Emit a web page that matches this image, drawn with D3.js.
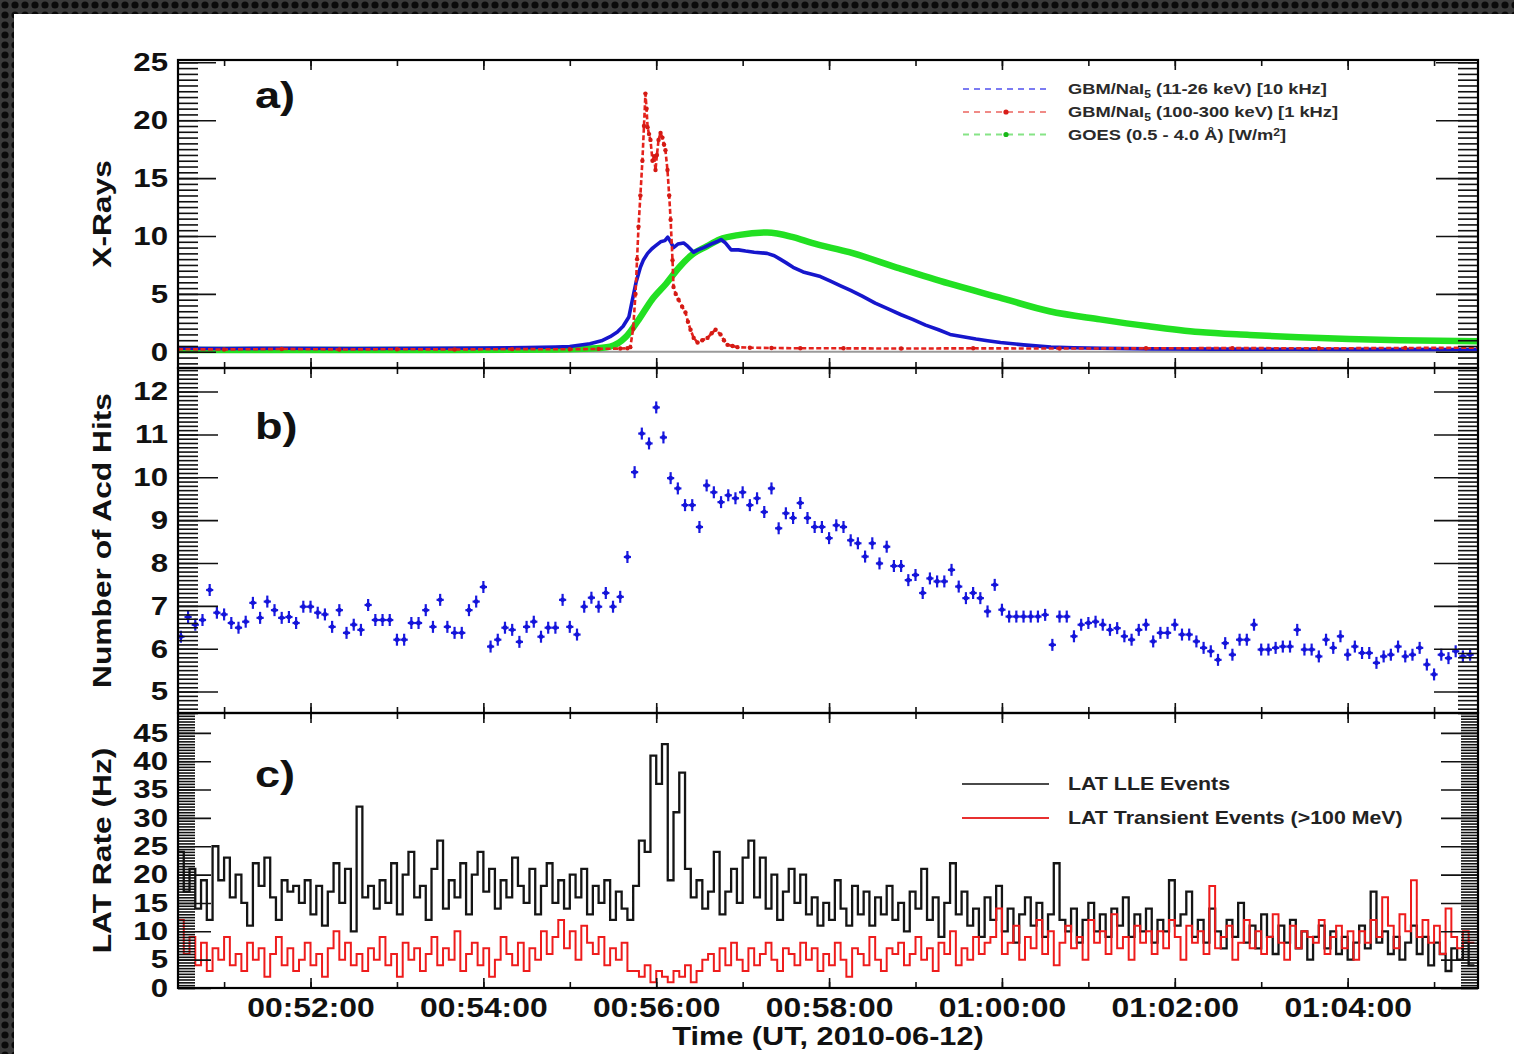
<!DOCTYPE html>
<html>
<head>
<meta charset="utf-8">
<title>Flare 2010-06-12</title>
<script src="https://cdn.jsdelivr.net/npm/d3@7"></script>
<style>
  body { margin: 0; background: #fff; }
  svg text { font-family: "Liberation Sans", Arial, Helvetica, sans-serif; font-weight: bold; fill: #111; }
</style>
</head>
<body>
<div id="container"></div>
<script>
/* DATA  (all times are seconds after 00:50:00 UT, 2010-06-12) */

// a) GBM NaI 5, 11-26 keV
const gbmLowT = [28, 60, 100, 150, 200, 240, 270, 290, 300, 314, 322, 328, 333, 337, 341, 343.5, 346, 349, 351,
  354, 357, 359, 363, 366, 368, 370, 372, 375, 379, 382, 386, 389, 393, 398, 402, 405, 408, 412, 417,
  422, 428, 437, 442, 446, 450, 455, 462, 468, 474, 481, 488, 495, 503, 512, 521, 530, 538, 547, 556,
  564, 573, 582, 590, 599, 615, 634, 650, 669, 703, 750, 800, 850, 931];
const gbmLowV = [0.30, 0.28, 0.31, 0.29, 0.31, 0.33, 0.36, 0.42, 0.46, 0.7, 0.95, 1.3, 1.7, 2.2, 3.0, 4.5, 6.0, 7.3, 7.9,
  8.5, 8.9, 9.1, 9.5, 9.6, 9.9, 9.5, 9.0, 9.3, 9.4, 9.1, 8.6, 8.8, 9.0, 9.3, 9.5, 9.7, 9.4, 8.8, 8.8,
  8.7, 8.6, 8.5, 8.3, 8.0, 7.7, 7.3, 6.9, 6.7, 6.5, 6.1, 5.7, 5.3, 4.8, 4.2, 3.7, 3.2, 2.8, 2.3, 1.9,
  1.5, 1.3, 1.1, 0.95, 0.8, 0.6, 0.4, 0.35, 0.3, 0.25, 0.23, 0.22, 0.21, 0.2];

// a) GBM NaI 5, 100-300 keV
const gbmHighT = [28, 60, 100, 140, 180, 220, 260, 300, 320, 335, 340, 342, 344, 345.6, 346.7, 347.7, 349, 350.4, 351.5, 352.5,
  353.3, 354, 355, 356, 357.4, 358.5, 359.5, 360.5, 361.6, 363, 364.3, 365.4, 366.4, 367.8, 369, 370, 371.3, 372, 373.5, 375.5,
  378, 380.3, 382, 383.8, 386, 388.7, 392, 395.6, 398.5, 401.2, 404.6, 407, 409.5, 413, 416.4, 425, 440, 460, 490, 530,
  580, 640, 700, 760, 820, 880, 931];
const gbmHighV = [0.22, 0.2, 0.24, 0.2, 0.22, 0.2, 0.23, 0.22, 0.25, 0.28, 0.3, 0.4, 2.0, 5.0, 8.0, 10.8, 13.5, 16.5, 19.5, 22.3,
  21.0, 19.4, 18.8, 18.3, 16.5, 16.9, 15.7, 17.0, 18.3, 18.9, 18.5, 17.9, 17.4, 15.7, 13.5, 11.4, 7.9, 5.6, 5.0, 4.5,
  3.9, 3.4, 2.6, 1.9, 1.2, 0.8, 1.0, 1.2, 1.6, 1.9, 1.5, 1.0, 0.6, 0.5, 0.4, 0.35, 0.33, 0.3, 0.3, 0.28,
  0.3, 0.28, 0.3, 0.32, 0.3, 0.33, 0.35];

// a) GOES 0.5-4.0 A
const goesT = [28, 120, 220, 290, 315, 328, 339, 348, 357, 367, 376, 385, 395, 404, 418, 437, 455, 468, 494, 529,
  563, 598, 633, 668, 702, 737, 772, 806, 841, 876, 931];
const goesV = [0.15, 0.15, 0.16, 0.2, 0.28, 0.45, 1.3, 2.8, 4.5, 5.9, 7.3, 8.4, 9.1, 9.7, 10.1, 10.3, 9.9, 9.4, 8.6, 7.2,
  5.9, 4.7, 3.5, 2.8, 2.2, 1.7, 1.45, 1.25, 1.1, 1.0, 0.9];

// b) ACD hits, 5 s points starting at 30 s
const acdStart = 30, acdStep = 5, acdErr = 0.14;
const acdV = [
  6.28, 6.74, 6.56, 6.67, 7.37, 6.84, 6.80, 6.60, 6.49, 6.63,
  7.07, 6.72, 7.10, 6.90, 6.72, 6.74, 6.60, 6.98, 6.98, 6.84,
  6.80, 6.51, 6.90, 6.37, 6.56, 6.44, 7.02, 6.67, 6.67, 6.67,
  6.21, 6.21, 6.60, 6.60, 6.90, 6.51, 7.14, 6.51, 6.37, 6.37,
  6.90, 7.10, 7.44, 6.05, 6.21, 6.49, 6.44, 6.16, 6.51, 6.63,
  6.28, 6.49, 6.49, 7.14, 6.51, 6.33, 6.98, 7.19, 6.98, 7.30,
  6.98, 7.21, 8.14,
  10.12, 11.02, 10.79, 11.63, 10.93, 9.98, 9.74, 9.35, 9.35, 8.84,
  9.81, 9.65, 9.42, 9.58, 9.51, 9.65, 9.35, 9.51, 9.19, 9.74,
  8.81, 9.16, 9.05, 9.40, 9.05, 8.84, 8.84, 8.58, 8.88, 8.84,
  8.53, 8.46,
  8.15, 8.46, 7.99, 8.38, 7.93, 7.93, 7.60, 7.72, 7.30, 7.64,
  7.57, 7.57, 7.84, 7.45, 7.18, 7.30, 7.18, 6.87, 7.49, 6.91,
  6.75, 6.75, 6.75, 6.75, 6.75, 6.79, 6.09, 6.75, 6.75, 6.29,
  6.56, 6.60, 6.63, 6.56, 6.44, 6.48, 6.29, 6.21, 6.44, 6.56,
  6.17, 6.37, 6.37, 6.56, 6.33, 6.33, 6.17, 6.02, 5.94, 5.74,
  6.13, 5.86, 6.21, 6.21, 6.56, 5.98, 5.98, 6.02, 6.05, 6.05,
  6.44, 5.98, 5.98, 5.82, 6.21, 6.02, 6.29, 5.86, 6.05, 5.90,
  5.90, 5.67, 5.82, 5.86, 6.05, 5.82, 5.86, 6.02, 5.63, 5.40,
  5.86, 5.78, 5.94, 5.82, 5.86];

// c) LAT rates, 4 s bins starting at 28 s
const latStart = 28, latStep = 4;
const lleV = [
  24, 17, 21, 14, 19, 12, 25, 19, 23, 16,
  20, 15, 11, 22, 18, 23, 16, 12, 19, 17,
  18, 15, 19, 13, 18, 11, 17, 22, 15, 21,
  10, 32, 16, 18, 14, 19, 15, 22, 13, 20,
  24, 16, 18, 12, 21, 26, 14, 19, 16, 22,
  13, 20, 24, 17, 21, 14, 19, 16, 23, 18,
  15, 21, 13, 18, 22, 15, 19, 14, 20, 16,
  21, 13, 18, 15, 19, 12, 17, 14, 12, 18,
  26, 24, 41, 36, 43, 19, 31, 38, 21, 16,
  19, 14, 17, 24, 13, 17, 21, 15, 23, 26,
  16, 23, 14, 20, 12, 17, 21, 15, 20, 13,
  16, 11, 15, 12, 19, 14, 11, 18, 13, 17,
  11, 16, 13, 18, 12, 15, 10, 17, 14, 21,
  12, 16, 9, 15, 22, 13, 17, 11, 14, 9,
  16, 12, 18, 10, 14, 8, 13, 16, 11, 15,
  9, 13, 22, 12, 10, 14, 8, 12, 15, 10,
  13, 9, 14, 11, 16, 9, 13, 10, 14, 8,
  12, 10, 19, 11, 13, 17, 9, 12, 8, 14,
  10, 7, 12, 9, 15, 8, 11, 7, 13, 9,
  6, 11, 8, 12, 7, 10, 5, 9, 11, 7,
  10, 6, 9, 5, 8, 11, 7, 17, 8, 10,
  6, 9, 5, 8, 11, 6, 9, 4, 8, 6,
  3, 7, 5, 8, 4];
const transientV = [
  12, 6, 9, 4, 8, 3, 7, 5, 9, 4,
  6, 3, 8, 5, 7, 2, 6, 9, 4, 7,
  3, 5, 8, 4, 6, 2, 7, 10, 5, 8,
  4, 6, 3, 7, 5, 9, 4, 6, 2, 8,
  5, 7, 3, 6, 9, 4, 7, 5, 10, 3,
  6, 8, 4, 7, 2, 5, 9, 6, 4, 8,
  3, 7, 5, 10, 6, 9, 12, 7, 10, 5,
  11, 8, 6, 9, 4, 7, 5, 8, 3, 3,
  2, 4, 1, 3, 2, 1, 3, 2, 4, 1,
  3, 5, 6, 3, 7, 4, 8, 5, 3, 7,
  4, 6, 8, 5, 3, 7, 6, 4, 8, 5,
  7, 3, 6, 4, 8, 5, 2, 7, 6, 4,
  9, 5, 3, 7, 6, 8, 4, 6, 9, 5,
  7, 3, 8, 6, 10, 4, 7, 5, 9, 6,
  8, 9, 14, 6, 8, 11, 5, 9, 7, 12,
  6, 10, 4, 8, 11, 7, 9, 5, 12, 8,
  10, 6, 13, 7, 9, 5, 11, 8, 10, 6,
  10, 7, 12, 9, 5, 11, 8, 10, 6, 18,
  7, 9, 11, 5, 8, 12, 7, 10, 6, 9,
  13, 8, 5, 11, 7, 10, 9, 8, 12, 6,
  9, 11, 7, 10, 5, 10, 8, 12, 9, 16,
  11, 7, 13, 10, 19, 9, 12, 8, 11, 6,
  14, 9, 7, 10, 8];

// tick labels / titles
const yLabelsA = [0, 5, 10, 15, 20, 25];
const yLabelsB = [5, 6, 7, 8, 9, 10, 11, 12];
const yLabelsC = [0, 5, 10, 15, 20, 25, 30, 35, 40, 45];
const legendA = [
  [["GBM/NaI", 0], ["5", 1], [" (11-26 keV) [10 kHz]", 0]],
  [["GBM/NaI", 0], ["5", 1], [" (100-300 keV) [1 kHz]", 0]],
  [["GOES (0.5 - 4.0 Å) [W/m", 0], ["2", -1], ["]", 0]]
];
const legendC = ["LAT LLE Events", "LAT Transient Events (>100 MeV)"];

/* CONSTANTS */
const width = 1514, height = 1054;
const left = 178, right = 1478;
const stretch = 1.22;
const t0 = Date.UTC(2010, 5, 12, 0, 50, 0);
const toDate = s => new Date(t0 + s * 1000);

const svg = d3.select("#container").append("svg")
  .attr("width", width).attr("height", height);
const defs = svg.append("defs");

// dotted dark frame round the page
const pat = defs.append("pattern").attr("id", "dots")
  .attr("width", 10).attr("height", 10).attr("patternUnits", "userSpaceOnUse");
pat.append("rect").attr("width", 10).attr("height", 10).attr("fill", "#3a3a3a");
pat.append("circle").attr("cx", 5).attr("cy", 5).attr("r", 3.6).attr("fill", "#0a0a0a");
svg.append("rect").attr("width", width).attr("height", height).attr("fill", "url(#dots)");
svg.append("rect").attr("x", 14).attr("y", 14).attr("width", width - 14).attr("height", height - 14).attr("fill", "#fff");

// SCALES
const x = d3.scaleUtc().domain([toDate(28), toDate(930.5)]).range([left, right]);

const panels = [
  { key: "a", top: 60, bottom: 368, domain: [-1.4, 25.2], major: 5, minor: 0.5, majLen: 38, minLen: 20,
    labels: yLabelsA, title: "X-Rays", letter: "a)", letterY: 108 },
  { key: "b", top: 368, bottom: 713, domain: [4.5, 12.55], major: 1, minor: 0.1, majLen: 40, minLen: 20,
    labels: yLabelsB, title: "Number of Acd Hits", letter: "b)", letterY: 439 },
  { key: "c", top: 713, bottom: 988, domain: [0, 48.5], major: 5, minor: 0.5, majLen: 33, minLen: 17,
    labels: yLabelsC, title: "LAT Rate (Hz)", letter: "c)", letterY: 787 }
];

panels.forEach(p => {
  p.y = d3.scaleLinear().domain(p.domain).range([p.bottom, p.top]);
  defs.append("clipPath").attr("id", "clip-" + p.key).append("rect")
    .attr("x", left).attr("y", p.top).attr("width", right - left).attr("height", p.bottom - p.top);
  p.g = svg.append("g").attr("clip-path", `url(#clip-${p.key})`);
});
const [pa, pb, pc] = panels;

function stretchText(sel, f) {
  sel.each(function () {
    const L = this.getComputedTextLength();
    d3.select(this).attr("textLength", L * f).attr("lengthAdjust", "spacingAndGlyphs");
  });
}
function ticksBetween(d0, d1, step) {
  const k0 = Math.ceil(d0 / step - 1e-9), k1 = Math.floor(d1 / step + 1e-9);
  return d3.range(k0, k1 + 1).map(k => +(k * step).toFixed(6));
}
const zip = (ts, vs) => ts.map((t, i) => ({ t: toDate(t), v: vs[i] }));
function binned(vals, start, w) {
  const pts = vals.map((v, i) => ({ t: toDate(start + i * w), v }));
  pts.push({ t: toDate(start + vals.length * w), v: vals[vals.length - 1] });
  return pts;
}

/* PANEL A */
pa.g.append("line").attr("x1", left).attr("x2", right)
  .attr("y1", pa.y(0)).attr("y2", pa.y(0)).attr("stroke", "#9a9a9a").attr("stroke-width", 2);

pa.g.append("path").datum(zip(goesT, goesV))
  .attr("d", d3.line().x(d => x(d.t)).y(d => pa.y(d.v)).curve(d3.curveMonotoneX))
  .attr("fill", "none").attr("stroke", "#22e022").attr("stroke-width", 6.5);
pa.g.append("path").datum(zip(gbmLowT, gbmLowV))
  .attr("d", d3.line().x(d => x(d.t)).y(d => pa.y(d.v)))
  .attr("fill", "none").attr("stroke", "#1616cc").attr("stroke-width", 3.6)
  .attr("stroke-linejoin", "round");
const highPts = zip(gbmHighT, gbmHighV);
pa.g.append("path").datum(highPts)
  .attr("d", d3.line().x(d => x(d.t)).y(d => pa.y(d.v)))
  .attr("fill", "none").attr("stroke", "#e4221c").attr("stroke-width", 2.6)
  .attr("stroke-dasharray", "5,2.5");
pa.g.selectAll("circle.hi").data(highPts).join("circle").attr("class", "hi")
  .attr("cx", d => x(d.t)).attr("cy", d => pa.y(d.v)).attr("r", 2.2).attr("fill", "#d41a14");

/* PANEL B */
const acd = acdV.map((v, i) => ({ t: acdStart + i * acdStep, v }));
const acdG = pb.g.append("g").attr("stroke", "#1818e0").attr("stroke-width", 2.2);
acdG.selectAll("line.ey").data(acd).join("line").attr("class", "ey")
  .attr("x1", d => x(toDate(d.t))).attr("x2", d => x(toDate(d.t)))
  .attr("y1", d => pb.y(d.v - acdErr)).attr("y2", d => pb.y(d.v + acdErr));
acdG.selectAll("line.ex").data(acd).join("line").attr("class", "ex")
  .attr("x1", d => x(toDate(d.t - acdStep / 2))).attr("x2", d => x(toDate(d.t + acdStep / 2)))
  .attr("y1", d => pb.y(d.v)).attr("y2", d => pb.y(d.v));
pb.g.selectAll("circle.acd").data(acd).join("circle").attr("class", "acd")
  .attr("cx", d => x(toDate(d.t))).attr("cy", d => pb.y(d.v)).attr("r", 2.4).attr("fill", "#1414d8");

/* PANEL C */
const stepC = d3.line().x(d => x(d.t)).y(d => pc.y(d.v)).curve(d3.curveStepAfter);
pc.g.append("path").datum(binned(lleV, latStart, latStep))
  .attr("d", stepC).attr("fill", "none").attr("stroke", "#151515").attr("stroke-width", 2.3);
pc.g.append("path").datum(binned(transientV, latStart, latStep))
  .attr("d", stepC).attr("fill", "none").attr("stroke", "#ee1c1c").attr("stroke-width", 2);

/* AXES */
const majX = x.ticks(d3.utcMinute.every(2));
const minX = x.ticks(d3.utcMinute.every(1));

panels.forEach(p => {
  const minorY = ticksBetween(p.domain[0], p.domain[1], p.minor);
  const majorY = ticksBetween(p.domain[0], p.domain[1], p.major);

  const gl = svg.append("g").attr("transform", `translate(${left},0)`);
  gl.append("g").call(d3.axisLeft(p.y).tickValues(minorY).tickSize(-p.minLen).tickFormat(""));
  const lab = gl.append("g").call(d3.axisLeft(p.y).tickValues(majorY).tickSize(-p.majLen).tickPadding(10)
    .tickFormat(d => p.labels.includes(d) ? d3.format("d")(d) : ""));
  lab.selectAll("text").style("font-size", "26px");
  stretchText(lab.selectAll("text"), 1.2);

  const gr = svg.append("g").attr("transform", `translate(${right},0)`);
  gr.append("g").call(d3.axisRight(p.y).tickValues(minorY).tickSize(-p.minLen).tickFormat(""));
  gr.append("g").call(d3.axisRight(p.y).tickValues(majorY).tickSize(-(p.majLen + 4)).tickFormat(""));

  // x ticks on top and bottom of each panel
  [[p.top, d3.axisBottom], [p.bottom, d3.axisTop]].forEach(([yy, ax]) => {
    const gx = svg.append("g").attr("transform", `translate(0,${yy})`);
    gx.append("g").call(ax(x).tickValues(minX).tickSize(6).tickFormat(""));
    gx.append("g").call(ax(x).tickValues(majX).tickSize(10).tickFormat(""));
  });
});

const xl = svg.append("g").attr("transform", `translate(0,${pc.bottom})`)
  .call(d3.axisBottom(x).tickValues(majX).tickSize(0).tickPadding(10).tickFormat(d3.utcFormat("%H:%M:%S")));
xl.selectAll("text").style("font-size", "27px");
stretchText(xl.selectAll("text"), 1.18);

svg.selectAll(".domain").remove();
svg.selectAll(".tick line").attr("stroke", "#111").attr("stroke-width", 1.6);

// frames
panels.forEach(p => {
  svg.append("rect").attr("x", left).attr("y", p.top).attr("width", right - left).attr("height", p.bottom - p.top)
    .attr("fill", "none").attr("stroke", "#000").attr("stroke-width", 2.2);
});

/* TITLES */
panels.forEach(p => {
  svg.append("text")
    .attr("transform", `translate(111,${(p.top + p.bottom) / 2}) rotate(-90) scale(${stretch},1)`)
    .attr("text-anchor", "middle").style("font-size", "26px").text(p.title);
  svg.append("text")
    .attr("transform", `translate(255,${p.letterY}) scale(${stretch},1)`)
    .style("font-size", "37px").text(p.letter);
});
svg.append("text").attr("transform", `translate(828,1045) scale(1.18,1)`)
  .attr("text-anchor", "middle").style("font-size", "26px").text("Time (UT, 2010-06-12)");

/* LEGEND A */
const legAStyles = [
  { stroke: "#7b7bf2", dot: null },
  { stroke: "#f08a86", dot: "#d81c18" },
  { stroke: "#86e486", dot: "#18b818" }
];
const legAY = [89, 112, 134.5];
legendA.forEach((parts, i) => {
  const st = legAStyles[i];
  svg.append("line").attr("x1", 963).attr("x2", 1050).attr("y1", legAY[i]).attr("y2", legAY[i])
    .attr("stroke", st.stroke).attr("stroke-width", 2).attr("stroke-dasharray", "6,5");
  if (st.dot) svg.append("circle").attr("cx", 1006).attr("cy", legAY[i]).attr("r", 2.6).attr("fill", st.dot);
  const t = svg.append("text").attr("transform", `translate(1068,${legAY[i] + 5.4}) scale(${stretch},1)`)
    .style("font-size", "15px").style("fill", "#2a2a2a");
  parts.forEach(([s, shift], k) => {
    const prev = k > 0 ? parts[k - 1][1] : 0;
    t.append("tspan").attr("dy", (shift - prev) * 4).style("font-size", shift ? "10px" : "15px").text(s);
  });
});

/* LEGEND C */
const legCY = [784, 818];
const legCColors = ["#4a4a4a", "#e83030"];
legendC.forEach((s, i) => {
  svg.append("line").attr("x1", 962).attr("x2", 1049).attr("y1", legCY[i]).attr("y2", legCY[i])
    .attr("stroke", legCColors[i]).attr("stroke-width", 2);
  svg.append("text").attr("transform", `translate(1068,${legCY[i] + 6.3}) scale(${stretch},1)`)
    .style("font-size", "17.5px").style("fill", "#222").text(s);
});
</script>
</body>
</html>
